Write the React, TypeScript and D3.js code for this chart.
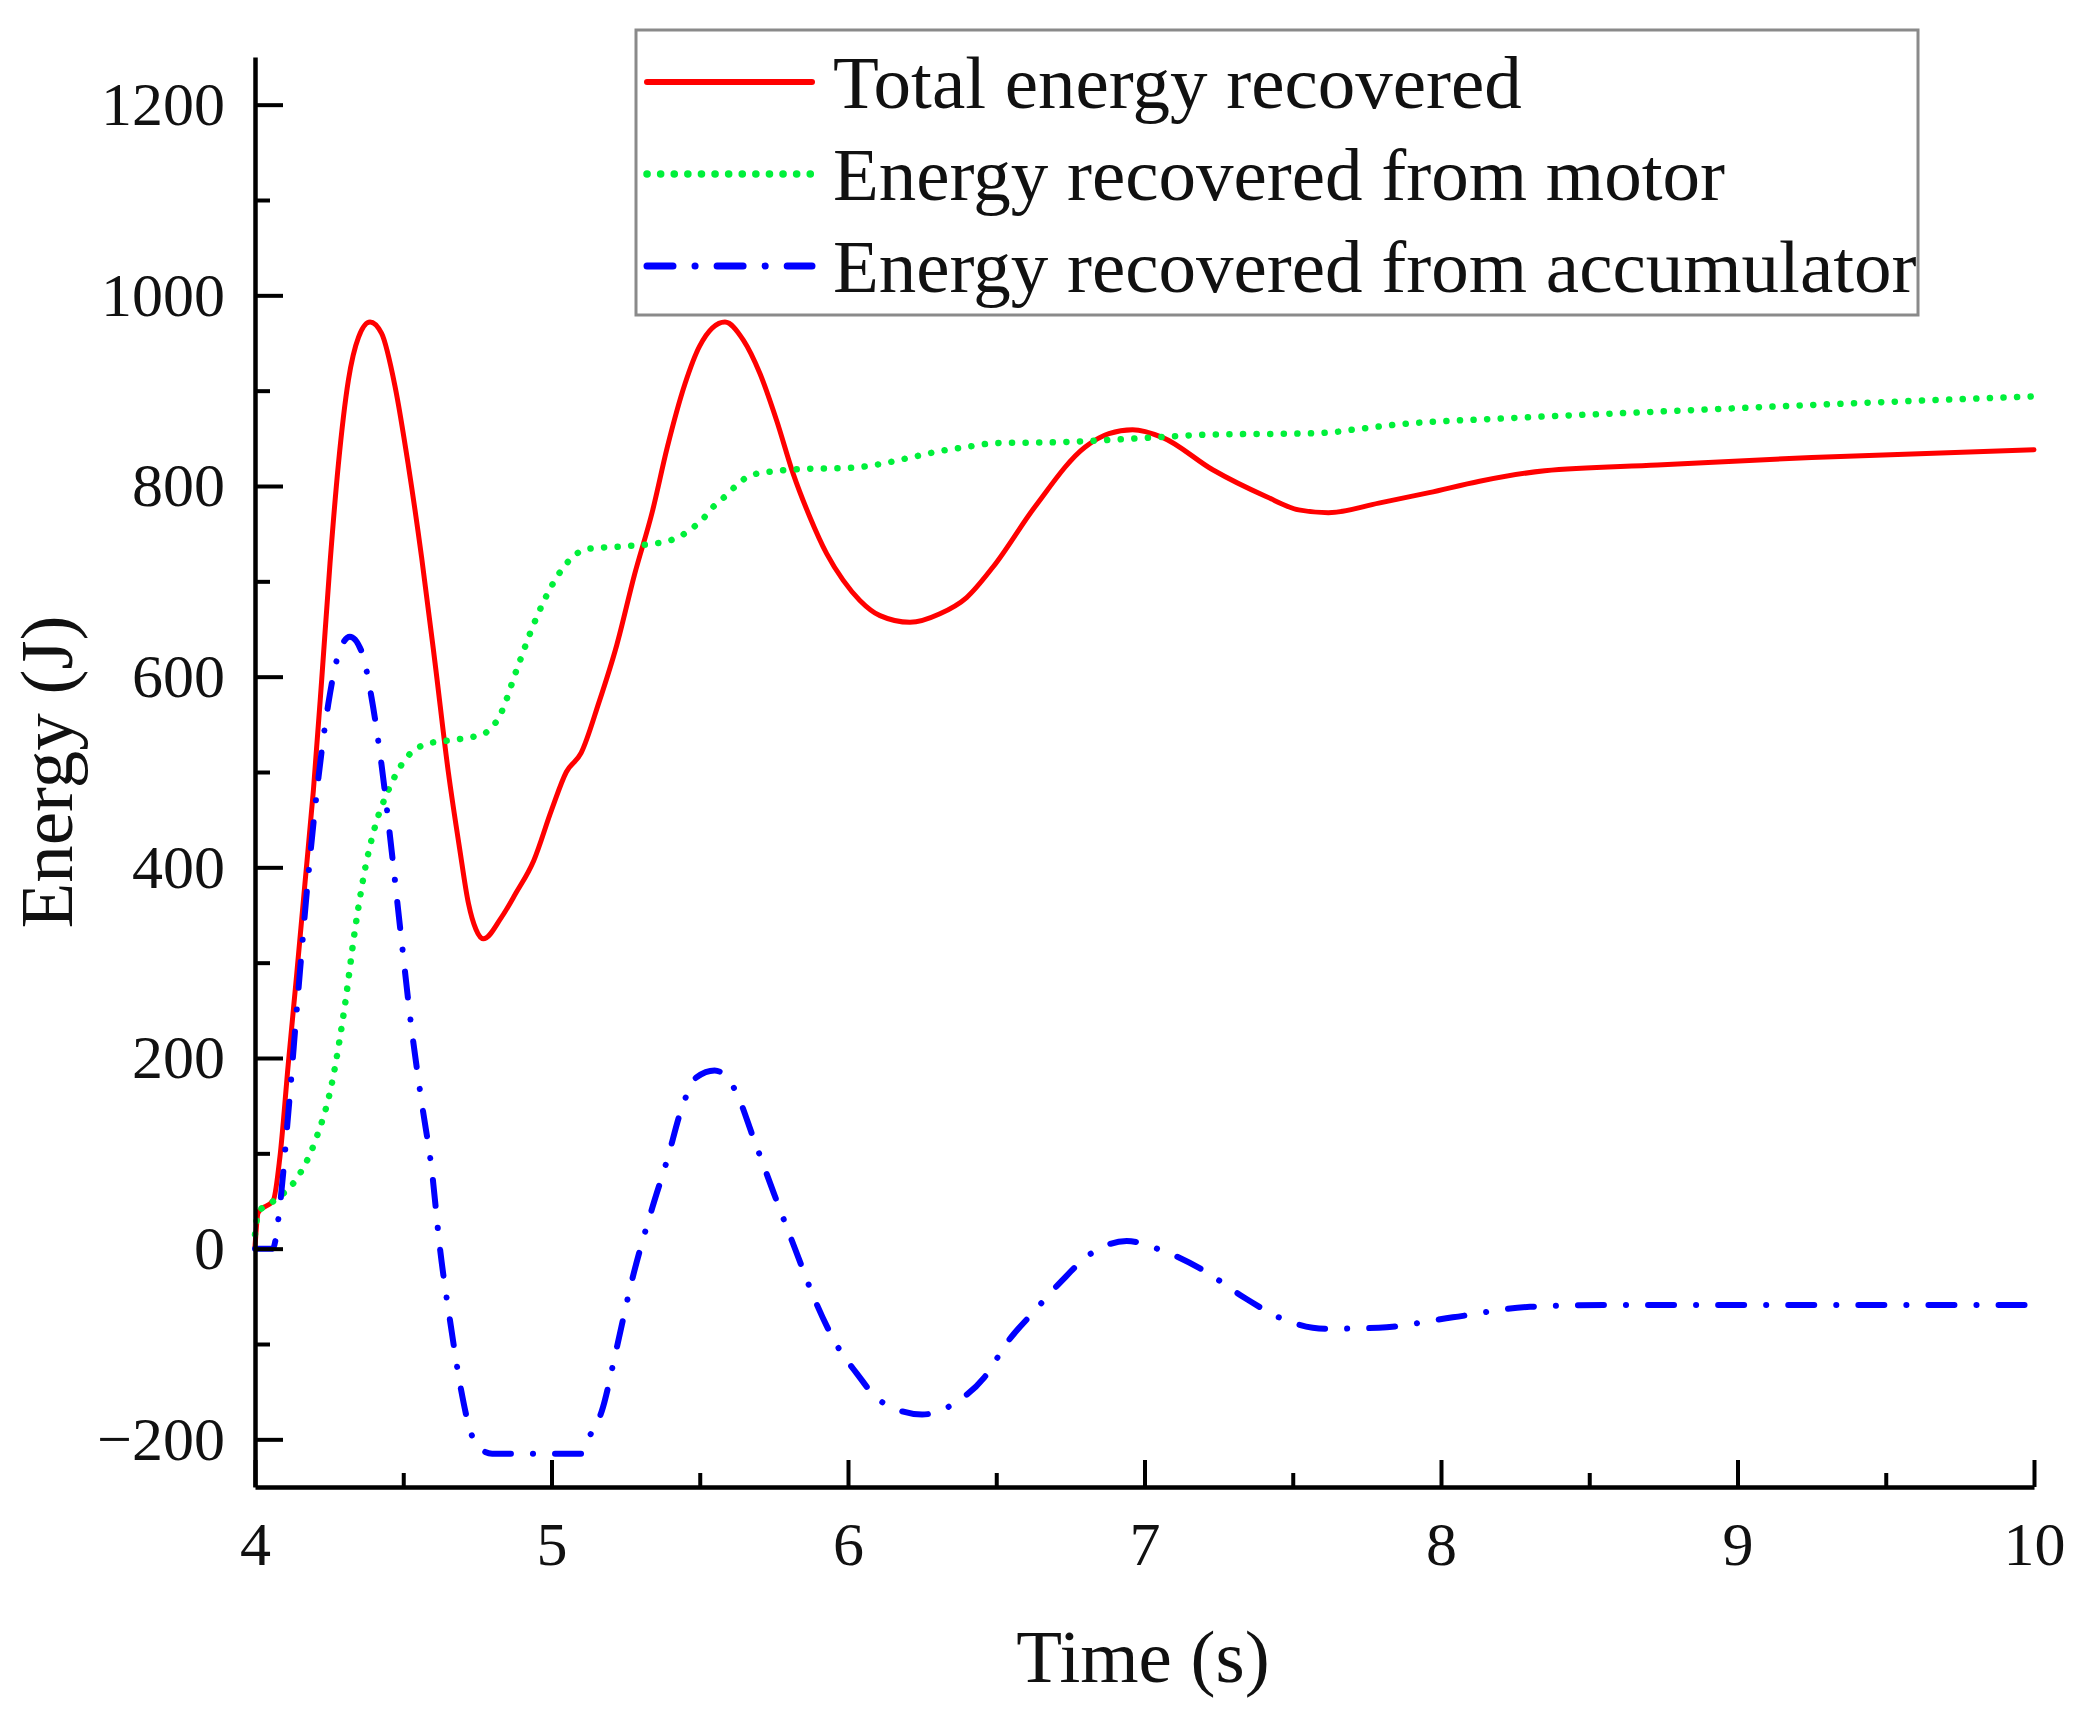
import { useEffect, useRef } from "react";
import { select, scaleLinear, axisLeft, axisBottom, line, curveMonotoneX, range } from "d3";

const WIDTH = 2075;
const HEIGHT = 1716;
const FONT = "'Liberation Serif', 'Times New Roman', Times, serif";

// Total energy recovered
const totalTime = [
    4.0, 4.011, 4.062, 4.084, 4.112, 4.141, 4.169, 4.197, 4.225, 4.253, 4.281, 4.315, 4.349, 4.388, 4.427, 4.472,
    4.517, 4.562, 4.607, 4.652, 4.69, 4.72, 4.745, 4.77, 4.83, 4.88, 4.94, 5.0, 5.05, 5.1, 5.16, 5.22, 5.28, 5.34,
    5.39, 5.45, 5.5, 5.585, 5.647, 5.703, 5.759, 5.815, 5.872, 5.928, 5.984, 6.04, 6.108, 6.209, 6.31, 6.4, 6.489,
    6.63, 6.8, 6.88, 6.96, 7.06, 7.23, 7.41, 7.52, 7.62, 7.79, 7.96, 8.13, 8.35, 8.73, 9.25, 10.0,
];
const totalEnergy = [
    2, 38, 51, 96, 193, 289, 385, 481, 597, 719, 822, 911, 956, 972, 960, 905, 822, 725, 615, 500, 420, 362, 335,
    325, 347, 373, 407, 460, 500, 520, 573, 633, 707, 773, 840, 907, 947, 972, 953, 918, 869, 813, 767, 729, 701, 680,
    664, 657, 666, 683, 715, 778, 841, 855, 859, 851, 817, 789, 775, 772, 782, 793, 805, 816, 822, 830, 838,
];

// Energy recovered from motor
const motorTime = [
    4.0, 4.011, 4.067, 4.135, 4.202, 4.259, 4.304, 4.337, 4.371, 4.405, 4.45, 4.506, 4.585, 4.652, 4.77, 4.83, 4.88,
    4.94, 5.0, 5.06, 5.12, 5.26, 5.39, 5.48, 5.512, 5.545, 5.585, 5.625, 5.67, 5.764, 5.86, 6.007, 6.108, 6.198, 6.3,
    6.4, 6.5, 6.72, 6.98, 7.23, 7.52, 7.62, 7.7, 7.87, 8.22, 8.73, 9.25, 10.0,
];
const motorEnergy = [
    15, 38, 51, 71, 112, 173, 257, 334, 398, 443, 481, 513, 530, 533, 540, 562, 605, 655, 695, 722, 734, 737, 742,
    757, 766, 778, 789, 801, 811, 816, 818, 819, 823, 829, 836, 841, 845, 846, 850, 854, 855, 856, 859, 865, 871, 878,
    885, 894,
];

// Energy recovered from accumulator
const accTime = [
    4.0, 4.06, 4.084, 4.112, 4.146, 4.18, 4.214, 4.247, 4.281, 4.32, 4.36, 4.393, 4.427, 4.461, 4.495, 4.528, 4.562,
    4.596, 4.624, 4.66, 4.695, 4.725, 4.76, 4.8, 5.1, 5.13, 5.17, 5.22, 5.27, 5.34, 5.39, 5.44, 5.49, 5.55, 5.62,
    5.68, 5.75, 5.82, 5.89, 5.96, 6.03, 6.11, 6.25, 6.37, 6.46, 6.54, 6.63, 6.72, 6.82, 6.94, 7.06, 7.2, 7.34, 7.46,
    7.61, 7.79, 8.04, 8.3, 8.56, 10.0,
];
const accEnergy = [
    0, 0, 45, 141, 270, 392, 494, 571, 623, 642, 626, 578, 507, 417, 321, 231, 154, 83, 0, -80, -148, -190, -210,
    -215, -215, -196, -170, -104, -35, 43, 93, 148, 180, 187, 166, 117, 58, 1, -55, -100, -131, -160, -174, -160,
    -135, -97, -65, -34, -5, 8, -2, -23, -52, -73, -84, -83, -72, -61, -59, -59,
];

const legendLabels = ["Total energy recovered", "Energy recovered from motor", "Energy recovered from accumulator"];
const xTicks = [4, 5, 6, 7, 8, 9, 10];
const yTicks = [-200, 0, 200, 400, 600, 800, 1000, 1200];
const xTitle = "Time (s)";
const yTitle = "Energy (J)";

const seriesStyles = [
    { color: "#ff0000", width: 5, dash: "none", cap: "round" },
    { color: "#00f03a", width: 6.5, dash: "0.1 13.5", cap: "round" },
    { color: "#0000ff", width: 6, dash: "26 22 0.1 22", cap: "round" },
];

const x = scaleLinear().domain([4, 10]).range([255, 2034]);
const y = scaleLinear().domain([-250, 1250]).range([1487, 57]);

const toPoints = (t: number[], v: number[]): [number, number][] => t.map((d, i) => [d, v[i]]);

const series = [toPoints(totalTime, totalEnergy), toPoints(motorTime, motorEnergy), toPoints(accTime, accEnergy)];

const path = line<[number, number]>()
    .x((d) => x(d[0]))
    .y((d) => y(d[1]))
    .curve(curveMonotoneX);

function EnergyChart() {
    const xAxisRef = useRef<SVGGElement>(null);
    const yAxisRef = useRef<SVGGElement>(null);
    const xMinorRef = useRef<SVGGElement>(null);
    const yMinorRef = useRef<SVGGElement>(null);

    useEffect(() => {
        const fmt = (d: any) => (d < 0 ? `\u2212${-d}` : `${d}`);

        // major ticks point inward
        const xAxis = axisBottom(x).tickValues(xTicks).tickSizeInner(-27).tickSizeOuter(0).tickPadding(34).tickFormat(fmt);
        const yAxis = axisLeft(y).tickValues(yTicks).tickSizeInner(-28).tickSizeOuter(0).tickPadding(30).tickFormat(fmt);

        const gx = select(xAxisRef.current!).call(xAxis);
        const gy = select(yAxisRef.current!).call(yAxis);
        [gx, gy].forEach((g) => {
            g.attr("font-size", 62).attr("font-family", FONT).attr("color", "#000");
            g.selectAll("line").attr("stroke-width", 4);
            g.select(".domain").attr("stroke-width", 4.5);
            g.selectAll("text").attr("fill", "#111");
        });

        // minor ticks
        const xMinor = axisBottom(x).tickValues(range(4.5, 10, 1)).tickSizeInner(-14).tickSizeOuter(0).tickFormat(() => "");
        const yMinor = axisLeft(y).tickValues(range(-100, 1200, 200)).tickSizeInner(-15).tickSizeOuter(0).tickFormat(() => "");
        [select(xMinorRef.current!).call(xMinor), select(yMinorRef.current!).call(yMinor)].forEach((g) => {
            g.attr("color", "#000");
            g.select(".domain").remove();
            g.selectAll("line").attr("stroke-width", 4);
        });
    }, []);

    const legendX = 636;
    const legendY = 30;
    const rowY = [82, 174, 266];

    return (
        <svg width={WIDTH} height={HEIGHT} style={{ display: "block", background: "#fff" }}>
            <g>
                {series.map((pts, i) => (
                    <path
                        key={i}
                        d={path(pts) ?? ""}
                        fill="none"
                        stroke={seriesStyles[i].color}
                        strokeWidth={seriesStyles[i].width}
                        strokeDasharray={seriesStyles[i].dash}
                        strokeLinecap={seriesStyles[i].cap as any}
                        strokeLinejoin="round"
                    />
                ))}
            </g>
            <g ref={xMinorRef} transform={`translate(0,${y(-250)})`} />
            <g ref={yMinorRef} transform={`translate(${x(4)},0)`} />
            <g ref={xAxisRef} transform={`translate(0,${y(-250)})`} />
            <g ref={yAxisRef} transform={`translate(${x(4)},0)`} />

            <text x={1143} y={1682} textAnchor="middle" fontFamily={FONT} fontSize={75} fill="#111">
                {xTitle}
            </text>
            <text
                transform="translate(72,772) rotate(-90)"
                textAnchor="middle"
                fontFamily={FONT}
                fontSize={75}
                fill="#111"
            >
                {yTitle}
            </text>

            <g>
                <rect x={legendX} y={legendY} width={1282} height={285} fill="#fff" stroke="#8a8a8a" strokeWidth={3} />
                {legendLabels.map((label, i) => (
                    <g key={label}>
                        <line
                            x1={647}
                            x2={812}
                            y1={rowY[i]}
                            y2={rowY[i]}
                            stroke={seriesStyles[i].color}
                            strokeWidth={seriesStyles[i].width + 1}
                            strokeDasharray={seriesStyles[i].dash}
                            strokeLinecap={seriesStyles[i].cap as any}
                        />
                        <text x={833} y={rowY[i] + 26} fontFamily={FONT} fontSize={75} fill="#111">
                            {label}
                        </text>
                    </g>
                ))}
            </g>
        </svg>
    );
}

export default function App() {
    return (
        <>
            <style>{"body{margin:0}"}</style>
            <EnergyChart />
        </>
    );
}
